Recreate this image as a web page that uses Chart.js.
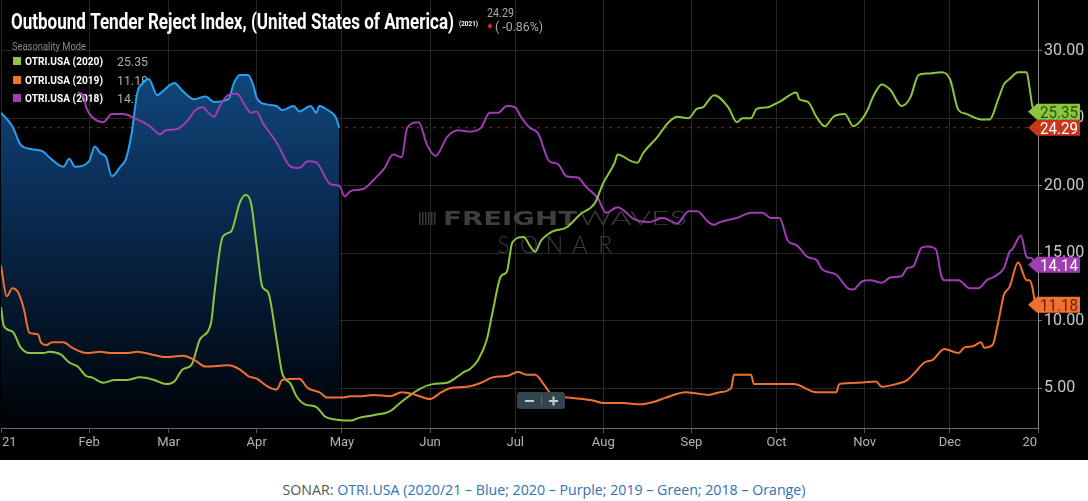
<!DOCTYPE html>
<html>
<head>
<meta charset="utf-8">
<script src="https://cdn.jsdelivr.net/npm/chart.js@4.4.1/dist/chart.umd.min.js"></script>
<style>
body{margin:0;background:#fff;width:1088px;height:501px;overflow:hidden}
#wrap{position:absolute;left:0;top:0;width:1088px;height:460px;background:#000}
#caption{position:absolute;left:0;top:480px;width:1088px;text-align:center;font:14.2px "Open Sans",sans-serif;color:#555}
#caption span{color:#2f72b5}
</style>
</head>
<body>
<div id="wrap"><canvas id="otri" width="1088" height="460"></canvas></div>
<div id="caption">SONAR: <span>OTRI.USA (2020/21 – Blue; 2020 – Purple; 2019 – Green; 2018 – Orange)</span></div>
<script>
// x = day of year, y = index value
const monthStarts = [0, 31, 59, 90, 120, 151, 181, 212, 243, 273, 304, 334, 365];
const monthLabels = ["21", "Feb", "Mar", "Apr", "May", "Jun", "Jul", "Aug", "Sep", "Oct", "Nov", "Dec", "20"];
const yTicks = [5, 10, 15, 20, 25, 30];

const blue2021 = [[0,25.4],[4,24.4],[7,23.0],[11,22.7],[15,22.5],[17,22.1],[22,21.4],[24,22.0],[26,21.4],[31,21.8],[33,22.9],[35,22.4],[37,22.1],[39,20.7],[42,21.4],[44,22.0],[46,23.9],[48,26.9],[50,27.6],[52,27.9],[55,26.7],[57,27.0],[61,27.6],[64,27.0],[68,26.4],[72,26.6],[75,26.2],[80,26.4],[82,27.6],[84,28.2],[87,28.2],[89,27.3],[90,26.5],[94,26.0],[97,25.9],[99,25.6],[103,25.9],[105,25.5],[109,25.9],[111,25.4],[112,25.9],[115,25.6],[118,25.0],[119,24.29]];

const green2020 = [[0,11.0],[1,9.6],[4,9.2],[7,8.0],[10,7.6],[15,7.6],[17,7.7],[21,7.5],[24,6.9],[27,6.6],[30,5.9],[32,5.8],[36,5.4],[40,5.6],[44,5.6],[49,5.8],[54,5.6],[58,5.3],[61,5.5],[64,6.4],[67,6.7],[70,8.6],[74,9.9],[75,11.8],[78,16.2],[81,16.6],[84,18.7],[86,19.3],[88,18.7],[90,15.5],[92,12.5],[94,12.1],[97,8.6],[99,6.1],[102,5.3],[104,4.4],[107,3.8],[111,3.6],[114,2.9],[117,2.7],[123,2.6],[126,2.8],[131,3.0],[137,3.3],[141,4.0],[147,4.9],[152,5.3],[157,5.4],[161,5.9],[163,6.2],[165,6.4],[168,7.1],[171,8.6],[173,10.6],[176,13.3],[178,13.6],[180,15.8],[184,16.2],[186,15.6],[188,15.1],[190,15.9],[194,16.6],[199,16.9],[204,17.9],[209,18.7],[212,20.2],[216,21.7],[217,22.3],[222,21.8],[224,21.7],[226,22.4],[231,23.6],[235,24.7],[238,25.1],[242,25.0],[245,25.7],[247,25.8],[251,26.7],[256,25.8],[259,24.7],[261,25.0],[264,25.0],[266,25.7],[270,25.8],[272,26.0],[274,26.2],[280,26.9],[281,26.4],[284,26.2],[287,25.1],[290,24.4],[293,25.1],[297,25.3],[300,24.4],[303,24.9],[305,25.6],[307,26.6],[310,27.5],[313,27.1],[317,25.9],[320,26.5],[323,28.2],[326,28.3],[331,28.4],[334,27.9],[337,25.6],[340,25.3],[342,25.1],[345,24.9],[348,24.9],[351,26.4],[353,27.5],[355,27.9],[358,28.4],[361,28.4],[362,27.3],[363,25.9],[364,25.35]];

const orange2019 = [[0,14.1],[2,11.8],[4,12.4],[6,12.1],[8,10.9],[10,9.1],[13,9.0],[14,8.4],[16,8.2],[18,8.4],[22,8.4],[25,8.0],[30,7.6],[35,7.7],[39,7.6],[44,7.6],[48,7.7],[53,7.5],[58,7.3],[64,7.4],[68,7.1],[72,6.6],[80,6.7],[84,6.4],[87,5.9],[90,5.7],[94,5.1],[97,4.9],[99,5.6],[105,5.7],[108,5.0],[112,4.7],[115,4.3],[120,4.3],[123,4.4],[127,4.4],[131,4.5],[137,4.4],[141,4.7],[146,4.5],[151,4.2],[155,4.7],[158,5.0],[164,5.1],[169,5.4],[173,5.8],[178,5.9],[182,6.2],[185,6.0],[188,6.0],[191,5.3],[194,4.5],[200,4.3],[208,4.1],[212,3.9],[219,3.9],[225,3.8],[230,4.0],[234,4.3],[241,4.7],[245,4.6],[249,4.5],[253,4.7],[257,5.0],[258,6.0],[264,6.0],[265,5.3],[274,5.3],[279,5.3],[287,4.7],[294,4.7],[295,5.3],[302,5.4],[308,5.5],[310,5.1],[315,5.3],[319,5.6],[321,6.0],[325,6.9],[328,7.1],[332,7.9],[337,7.6],[339,8.0],[342,8.1],[345,8.4],[346,8.0],[349,8.2],[351,9.9],[353,11.9],[355,12.5],[358,14.3],[361,13.0],[362,13.0],[363,12.5],[364,11.18]];

const purple2018 = [[27,26.9],[29,26.7],[30,25.8],[32,25.1],[36,24.7],[39,25.3],[43,25.3],[47,25.0],[50,24.7],[53,24.3],[56,23.8],[58,24.1],[62,24.2],[66,24.9],[68,25.5],[71,25.8],[73,25.4],[75,25.1],[77,25.9],[80,26.7],[83,26.8],[86,25.9],[88,25.4],[90,25.5],[92,24.7],[97,23.2],[102,21.4],[105,21.3],[108,21.8],[111,21.7],[116,20.1],[119,20.0],[121,19.2],[123,19.6],[126,19.7],[128,19.8],[131,20.4],[135,21.3],[138,22.3],[141,22.1],[143,24.3],[147,24.7],[150,23.0],[153,22.2],[157,23.6],[161,24.1],[165,24.0],[169,24.3],[172,25.4],[175,25.4],[178,25.9],[181,25.8],[183,25.1],[186,24.3],[189,23.9],[193,21.8],[196,21.6],[199,20.7],[203,20.6],[206,19.9],[210,19.1],[213,18.0],[217,18.4],[223,17.5],[228,17.3],[233,17.6],[238,17.2],[242,18.1],[245,18.1],[249,17.3],[251,17.1],[253,17.3],[259,17.6],[264,18.0],[268,18.0],[271,17.6],[274,17.6],[277,15.9],[280,15.6],[284,14.7],[287,14.5],[289,13.8],[294,13.4],[298,12.4],[300,12.3],[303,12.9],[306,13.0],[310,12.8],[313,13.2],[317,13.3],[319,13.9],[321,14.0],[324,15.4],[326,15.5],[329,15.3],[331,13.3],[332,13.0],[337,13.0],[341,12.4],[344,12.4],[347,13.0],[350,13.3],[353,13.9],[355,15.1],[356,15.3],[359,16.3],[361,14.7],[363,14.6],[364,14.14]];

const GREEN = "#8cc63e", ORANGE = "#f07030", PURPLE = "#a03cb4", BLUE = "#2a9ff0";
const toPts = arr => arr.map(p => ({x: p[0], y: p[1]}));
const last = arr => arr[arr.length - 1][1];

function fitText(ctx, txt, x, y, w, font, color) {
  ctx.save();
  ctx.font = font;
  ctx.fillStyle = color;
  ctx.textAlign = "left";
  ctx.textBaseline = "alphabetic";
  const m = ctx.measureText(txt).width;
  ctx.translate(x, y);
  ctx.scale(w / m, 1);
  ctx.fillText(txt, 0, 0);
  ctx.restore();
}

function badge(ctx, cy, txt, bg, fg) {
  ctx.save();
  ctx.fillStyle = bg;
  ctx.beginPath();
  ctx.moveTo(1028, cy);
  ctx.lineTo(1037, cy - 8);
  ctx.lineTo(1080, cy - 8);
  ctx.lineTo(1080, cy + 8);
  ctx.lineTo(1037, cy + 8);
  ctx.closePath();
  ctx.fill();
  ctx.restore();
  fitText(ctx, txt, 1040, cy + 6, 38, "16px Roboto", fg);
}

const overlay = {
  id: "overlay",
  beforeDatasetsDraw(chart) {
    const ctx = chart.ctx, a = chart.chartArea, y = chart.scales.y;
    // watermark
    ctx.save();
    ctx.fillStyle = "#3a3a3a";
    for (let i = 0; i < 6; i++) ctx.fillRect(419 + i * 3, 212, 1.5, 13);
    ctx.restore();
    fitText(ctx, "FREIGHT", 443, 225, 134, "bold 20px 'DejaVu Sans'", "#3e3e3e");
    fitText(ctx, "WAVES", 579, 225, 108, "300 20px Lato", "#3e3e3e");
    ctx.save();
    ctx.font = "300 23px Lato";
    ctx.fillStyle = "#3e3e3e";
    ctx.textAlign = "center";
    "SONAR".split("").forEach((ch, i) => ctx.fillText(ch, 491 + (i + 0.5) * 25.4, 253));
    ctx.restore();

    // dashed line at latest value
    const ly = y.getPixelForValue(last(blue2021));
    ctx.save();
    ctx.strokeStyle = "rgba(170,45,25,0.9)";
    ctx.setLineDash([3, 5]);
    ctx.lineWidth = 1;
    ctx.beginPath();
    ctx.moveTo(a.left, ly);
    ctx.lineTo(a.right - 8, ly);
    ctx.stroke();
    ctx.restore();

    // title
    fitText(ctx, "Outbound Tender Reject Index, (United States of America)", 11, 29, 443, "bold 22px Roboto", "#fff");
    fitText(ctx, "(2021)", 459, 26, 19, "bold 7px Roboto", "#fff");
    fitText(ctx, "24.29", 487, 17, 27, "12px Roboto", "#aaa");
    ctx.save();
    ctx.fillStyle = "#e0241b";
    ctx.beginPath();
    ctx.moveTo(490, 23); ctx.lineTo(492.5, 26); ctx.lineTo(490, 29); ctx.lineTo(487.5, 26);
    ctx.fill();
    ctx.restore();
    fitText(ctx, "( -0.86%)", 495, 31, 48, "12px Roboto", "#aaa");

    // legend
    fitText(ctx, "Seasonality Mode", 12, 50, 74, "10px Roboto", "#8a8a8a");
    const rows = [["OTRI.USA (2020)", GREEN, "25.35", 61], ["OTRI.USA (2019)", ORANGE, "11.18", 80], ["OTRI.USA (2018)", PURPLE, "14.14", 98]];
    rows.forEach(r => {
      ctx.fillStyle = r[1];
      ctx.fillRect(13, r[3] - 4, 8, 8);
      fitText(ctx, r[0], 25, r[3] + 4, 78, "bold 10px Roboto", "#fff");
      fitText(ctx, r[2], 117, r[3] + 5, 31, "13px Roboto", "#aaa");
    });
  },
  afterDatasetsDraw(chart) {
    const ctx = chart.ctx;
    ctx.save();
    ctx.fillStyle = "#34444f";
    ctx.beginPath();
    ctx.roundRect(517, 392, 48, 17, 3);
    ctx.fill();
    ctx.strokeStyle = "#5a6a78";
    ctx.beginPath();
    ctx.moveTo(541.5, 395); ctx.lineTo(541.5, 406);
    ctx.stroke();
    ctx.fillStyle = "#c5ced6";
    ctx.fillRect(525, 400, 9, 2);
    ctx.fillRect(549, 400, 9, 2);
    ctx.fillRect(552.5, 396.5, 2, 9);
    ctx.restore();
  },
  afterDraw(chart) {
    const ctx = chart.ctx, x = chart.scales.x, y = chart.scales.y;
    // x labels
    ctx.save();
    ctx.font = "13px Roboto";
    ctx.fillStyle = "#b5b5b5";
    ctx.textBaseline = "middle";
    monthStarts.forEach((d, i) => {
      let px = x.getPixelForValue(d);
      ctx.textAlign = "center";
      if (i === 0) { ctx.textAlign = "left"; px = 2; }
      if (i === monthStarts.length - 1) { ctx.textAlign = "right"; px -= 1; }
      ctx.fillText(monthLabels[i], px, 443);
    });
    ctx.restore();
    // value badges
    const gy = y.getPixelForValue(last(green2020));
    const ry = y.getPixelForValue(last(blue2021));
    badge(ctx, ry, "24.29", "#c8361c", "#fff");
    badge(ctx, Math.min(gy, ry - 16), "25.35", GREEN, "#2c5410");
    badge(ctx, y.getPixelForValue(last(purple2018)), "14.14", PURPLE, "#fff");
    badge(ctx, y.getPixelForValue(last(orange2019)), "11.18", ORANGE, "#6a2508");
  }
};

const line = (data, color) => ({
  data: toPts(data), borderColor: color, borderWidth: 2, pointRadius: 0,
  cubicInterpolationMode: "monotone", fill: false
});

new Chart(document.getElementById("otri"), {
  type: "line",
  data: {
    datasets: [
      line(orange2019, ORANGE),
      line(green2020, GREEN),
      line(purple2018, PURPLE),
      {
        data: toPts(blue2021), borderColor: BLUE, borderWidth: 2, pointRadius: 0,
        cubicInterpolationMode: "monotone", fill: "start",
        backgroundColor: c => {
          const a = c.chart.chartArea;
          if (!a) return "rgba(0,0,0,0)";
          const g = c.chart.ctx.createLinearGradient(0, 75, 0, a.bottom);
          g.addColorStop(0, "#114679");
          g.addColorStop(0.35, "#0a2d55");
          g.addColorStop(0.7, "#04152a");
          g.addColorStop(1, "#000205");
          return g;
        }
      }
    ]
  },
  options: {
    responsive: false,
    animation: false,
    devicePixelRatio: 1,
    layout: {padding: {left: 1, top: 0, right: 0, bottom: 0}},
    plugins: {legend: {display: false}, tooltip: {enabled: false}},
    scales: {
      x: {
        type: "linear", min: 0, max: 365,
        afterBuildTicks: s => { s.ticks = monthStarts.map(v => ({value: v})); },
        afterFit: s => { s.height = 32; s.paddingLeft = 0; s.paddingRight = 0; },
        ticks: {display: false},
        grid: {color: "#272727", tickLength: 5, tickColor: "#555"},
        border: {color: "#666"}
      },
      y: {
        position: "right", min: 2.05, max: 33.75,
        afterBuildTicks: s => { s.ticks = yTicks.map(v => ({value: v})); },
        afterFit: s => { s.width = 50; s.paddingTop = 0; s.paddingBottom = 0; },
        ticks: {color: "#c8c8c8", font: {family: "Roboto", size: 16}, padding: 2, callback: v => v.toFixed(2)},
        grid: {color: "#272727", tickLength: 4, tickColor: "#777"},
        border: {color: "#888"}
      }
    }
  },
  plugins: [overlay]
});
</script>
</body>
</html>
